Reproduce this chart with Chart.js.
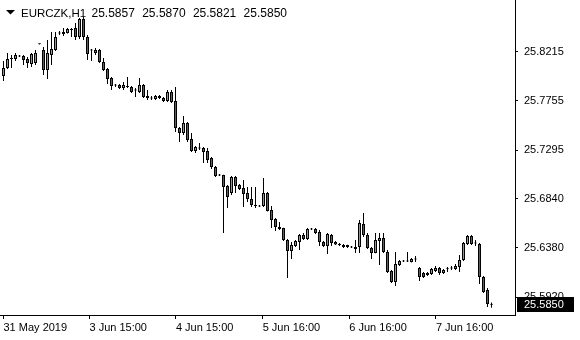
<!DOCTYPE html>
<html>
<head>
<meta charset="utf-8">
<script src="https://cdn.jsdelivr.net/npm/chart.js@4.4.0/dist/chart.umd.min.js"></script>
<style>
  html, body { margin: 0; padding: 0; background: #fff; }
  #wrap { width: 580px; height: 340px; }
</style>
</head>
<body>
<div id="wrap"><canvas id="myChart" width="580" height="340"></canvas></div>
<script>
// EURCZK H1 candles (estimates)
const symbol = "EURCZK,H1";

const open = [
  25.7987, 25.8062, 25.8146, 25.8146, 25.8174, 25.8174, 25.8146, 25.8100, 25.8109, 25.8287,
  25.8230, 25.8043, 25.8184, 25.8230, 25.8389, 25.8380, 25.8389, 25.8417, 25.8436, 25.8352,
  25.8520, 25.8352, 25.8230, 25.8202, 25.8230, 25.8118, 25.8053, 25.7969, 25.7903, 25.7903,
  25.7875, 25.7889, 25.7885, 25.7856, 25.7838, 25.7903, 25.7800, 25.7782, 25.7772, 25.7800,
  25.7782, 25.7754, 25.7838, 25.7754, 25.7501, 25.7454, 25.7548, 25.7398, 25.7286, 25.7314,
  25.7314, 25.7286, 25.7221, 25.7137, 25.7062, 25.7062, 25.6959, 25.6893, 25.7043, 25.6968,
  25.6940, 25.6893, 25.6837, 25.6776, 25.6772, 25.6772, 25.6893, 25.6734, 25.6650, 25.6576,
  25.6566, 25.6454, 25.6351, 25.6398, 25.6435, 25.6501, 25.6463, 25.6557, 25.6557, 25.6529,
  25.6435, 25.6398, 25.6501, 25.6435, 25.6417, 25.6407, 25.6407, 25.6389, 25.6370, 25.6389,
  25.6604, 25.6501, 25.6379, 25.6332, 25.6445, 25.6473, 25.6342, 25.6164, 25.6061, 25.6220,
  25.6258, 25.6258, 25.6248, 25.6276, 25.6192, 25.6145, 25.6127, 25.6136, 25.6164, 25.6192,
  25.6145, 25.6183, 25.6192, 25.6183, 25.6202, 25.6267, 25.6417, 25.6491, 25.6426, 25.6417,
  25.6108, 25.5986, 25.5857
];
const high = [
  25.8128, 25.8202, 25.8184, 25.8202, 25.8184, 25.8184, 25.8165, 25.8202, 25.8230, 25.8289,
  25.8259, 25.8324, 25.8399, 25.8399, 25.8408, 25.8436, 25.8436, 25.8436, 25.8483, 25.8530,
  25.8539, 25.8371, 25.8240, 25.8249, 25.8240, 25.8156, 25.8062, 25.7978, 25.7913, 25.7913,
  25.7931, 25.7978, 25.7894, 25.7875, 25.7969, 25.7913, 25.7856, 25.7800, 25.7810, 25.7810,
  25.7791, 25.7856, 25.7856, 25.7885, 25.7511, 25.7613, 25.7557, 25.7454, 25.7333, 25.7361,
  25.7324, 25.7314, 25.7230, 25.7146, 25.7071, 25.7065, 25.6968, 25.7052, 25.7052, 25.6978,
  25.7015, 25.6950, 25.6950, 25.6950, 25.6781, 25.7034, 25.6903, 25.6772, 25.6660, 25.6622,
  25.6570, 25.6463, 25.6435, 25.6454, 25.6510, 25.6519, 25.6566, 25.6566, 25.6566, 25.6547,
  25.6445, 25.6519, 25.6510, 25.6445, 25.6426, 25.6417, 25.6410, 25.6398, 25.6454, 25.6641,
  25.6706, 25.6519, 25.6389, 25.6519, 25.6519, 25.6519, 25.6360, 25.6173, 25.6342, 25.6267,
  25.6267, 25.6342, 25.6286, 25.6304, 25.6202, 25.6155, 25.6155, 25.6192, 25.6211, 25.6202,
  25.6183, 25.6202, 25.6211, 25.6230, 25.6314, 25.6435, 25.6501, 25.6501, 25.6454, 25.6426,
  25.6117, 25.6005, 25.5870
];
const low = [
  25.7941, 25.8053, 25.8062, 25.8128, 25.8165, 25.8090, 25.8062, 25.8072, 25.8090, 25.8283,
  25.7997, 25.7959, 25.8090, 25.8221, 25.8371, 25.8361, 25.8385, 25.8352, 25.8324, 25.8333,
  25.8324, 25.8137, 25.8128, 25.8184, 25.8109, 25.8034, 25.7913, 25.7856, 25.7885, 25.7866,
  25.7856, 25.7875, 25.7828, 25.7791, 25.7828, 25.7782, 25.7763, 25.7763, 25.7763, 25.7772,
  25.7744, 25.7744, 25.7735, 25.7464, 25.7370, 25.7436, 25.7370, 25.7277, 25.7267, 25.7295,
  25.7174, 25.7174, 25.7118, 25.7043, 25.7052, 25.6519, 25.6753, 25.6875, 25.6893, 25.6921,
  25.6763, 25.6809, 25.6763, 25.6753, 25.6763, 25.6763, 25.6720, 25.6566, 25.6538, 25.6547,
  25.6445, 25.6099, 25.6276, 25.6389, 25.6360, 25.6454, 25.6454, 25.6547, 25.6510, 25.6398,
  25.6389, 25.6323, 25.6398, 25.6407, 25.6398, 25.6379, 25.6379, 25.6379, 25.6332, 25.6332,
  25.6482, 25.6370, 25.6276, 25.6330, 25.6220, 25.6332, 25.6145, 25.6052, 25.6024, 25.6211,
  25.6248, 25.6248, 25.6245, 25.6248, 25.6071, 25.6099, 25.6117, 25.6127, 25.6155, 25.6127,
  25.6136, 25.6155, 25.6173, 25.6173, 25.6155, 25.6258, 25.6407, 25.6407, 25.6398, 25.6043,
  25.5958, 25.5828, 25.5821
];
const close = [
  25.8062, 25.8146, 25.8150, 25.8184, 25.8170, 25.8137, 25.8109, 25.8193, 25.8202, 25.8285,
  25.8043, 25.8202, 25.8240, 25.8352, 25.8386, 25.8399, 25.8427, 25.8427, 25.8352, 25.8520,
  25.8352, 25.8193, 25.8226, 25.8230, 25.8118, 25.8043, 25.7959, 25.7894, 25.7899, 25.7875,
  25.7903, 25.7885, 25.7838, 25.7852, 25.7903, 25.7791, 25.7782, 25.7778, 25.7800, 25.7782,
  25.7754, 25.7838, 25.7744, 25.7501, 25.7454, 25.7548, 25.7389, 25.7286, 25.7324, 25.7310,
  25.7277, 25.7202, 25.7137, 25.7052, 25.7058, 25.6950, 25.6856, 25.7043, 25.6959, 25.6931,
  25.6884, 25.6837, 25.6781, 25.6772, 25.6768, 25.6893, 25.6725, 25.6641, 25.6576, 25.6557,
  25.6454, 25.6351, 25.6407, 25.6445, 25.6501, 25.6463, 25.6557, 25.6553, 25.6519, 25.6435,
  25.6398, 25.6510, 25.6426, 25.6412, 25.6407, 25.6389, 25.6389, 25.6385, 25.6389, 25.6613,
  25.6501, 25.6379, 25.6332, 25.6454, 25.6473, 25.6342, 25.6155, 25.6061, 25.6230, 25.6258,
  25.6254, 25.6254, 25.6276, 25.6272, 25.6108, 25.6108, 25.6145, 25.6183, 25.6192, 25.6145,
  25.6173, 25.6180, 25.6189, 25.6211, 25.6267, 25.6426, 25.6491, 25.6417, 25.6422, 25.6108,
  25.5968, 25.5856, 25.5850
];

// axis ticks (bar index positions for the time labels)
const xTickIdx = [0, 21.5, 43.1, 64.8, 86.45, 108.1];
const xTickLabels = ["31 May 2019", "3 Jun 15:00", "4 Jun 15:00", "5 Jun 16:00", "6 Jun 16:00", "7 Jun 16:00"];
const yTicks = [25.8215, 25.7755, 25.7295, 25.684, 25.638, 25.592];

const upColor = "#3fd03f";
const downColor = "#ff1a1a";
const font = "'Liberation Sans', Arial, sans-serif";

// header text + last price tag
const overlay = {
  id: "overlay",
  afterDraw(chart) {
    const c = chart.ctx;
    const last = close.length - 1;
    const py = Math.round(chart.scales.y.getPixelForValue(close[last]));
    c.save();
    c.fillStyle = "#000";
    c.fillRect(517, py - 8, 57, 15);
    c.fillStyle = "#fff";
    c.font = "11px " + font;
    c.textBaseline = "middle";
    c.fillText(close[last].toFixed(4), 524, py);

    // top-left info line
    c.fillStyle = "#000";
    c.beginPath();
    c.moveTo(6, 10);
    c.lineTo(15, 10);
    c.lineTo(10.5, 14.5);
    c.closePath();
    c.fill();
    c.textBaseline = "alphabetic";
    c.font = "11.5px " + font;
    c.fillText(symbol, 21, 17);
    c.font = "12px " + font;
    const vals = [open[last], high[last], low[last], close[last]];
    vals.forEach((v, k) => c.fillText(v.toFixed(4), 91.5 + 50.7 * k, 17));
    c.restore();
  }
};

const ctx = document.getElementById("myChart");
const myChart = new Chart(ctx, {
  type: "bar",
  data: {
    datasets: [
      {
        label: "body",
        data: open.map((o, i) => ({ x: i, y: [o, close[i]] })),
        backgroundColor: open.map((o, i) =>
          close[i] > o ? upColor : close[i] < o ? downColor : "#000"
        ),
        borderColor: "#000",
        borderWidth: 1,
        borderSkipped: false,
        barThickness: 3,
        minBarLength: 1,
        inflateAmount: 0,
        grouped: false,
        order: 0,
      },
      {
        label: "wick",
        data: low.map((l, i) => ({ x: i, y: [l, high[i]] })),
        backgroundColor: "#000",
        borderWidth: 0,
        barThickness: 1,
        minBarLength: 1,
        inflateAmount: 0,
        grouped: false,
        order: 1,
      },
    ],
  },
  options: {
    responsive: false,
    animation: false,
    devicePixelRatio: 1,
    layout: { padding: 0 },
    plugins: { legend: { display: false }, tooltip: { enabled: false } },
    scales: {
      x: {
        type: "linear",
        offset: false,
        min: -0.875,
        max: 127.875,
        afterBuildTicks: (s) => { s.ticks = xTickIdx.map((v) => ({ value: v })); },
        afterFit: (s) => { s.height = 25; s.paddingLeft = 0; s.paddingRight = 0; },
        grid: { offset: false, drawOnChartArea: false, drawTicks: true, tickLength: 4, color: "#000" },
        border: { display: true, color: "#000" },
        ticks: {
          autoSkip: false,
          maxRotation: 0,
          align: "start",
          padding: 2,
          color: "#000",
          font: { family: font, size: 11 },
          callback: (v, i) => xTickLabels[i],
        },
      },
      y: {
        position: "right",
        min: 25.57534,
        max: 25.86984,
        afterBuildTicks: (s) => { s.ticks = yTicks.map((v) => ({ value: v })); },
        afterFit: (s) => { s.width = 65; s.paddingTop = 0; s.paddingBottom = 0; },
        grid: { drawOnChartArea: false, drawTicks: true, tickLength: 3, color: "#000" },
        border: { display: true, color: "#000" },
        ticks: {
          padding: 6,
          color: "#000",
          font: { family: font, size: 11 },
          callback: (v) => v.toFixed(4),
        },
      },
    },
  },
  plugins: [overlay],
});
</script>
</body>
</html>
